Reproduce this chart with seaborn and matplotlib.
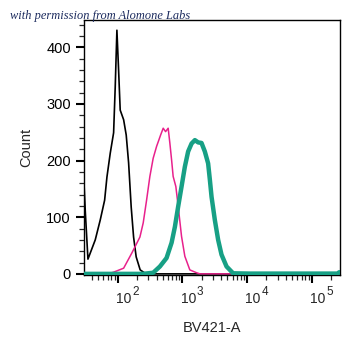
import numpy as np
import pandas as pd
import matplotlib
matplotlib.use("Agg")
import matplotlib.pyplot as plt
import matplotlib.transforms as mtransforms
import seaborn as sns
from matplotlib.ticker import LogLocator, MultipleLocator, FixedLocator

# ---- data (log10 of BV421-A intensity, event count) ----
black_log = [1.48, 1.50, 1.541, 1.654, 1.731, 1.799, 1.835, 1.886, 1.938, 1.963,
             1.989, 2.015, 2.040, 2.093, 2.133, 2.170, 2.210, 2.247, 2.287, 2.349,
             2.427, 2.499, 5.44]
black_cnt = [160, 110, 26, 60, 95, 130, 171, 213, 249, 330,
             430, 360, 289, 272, 245, 196, 118, 65, 30, 7,
             1, 0, 0]

pink_log = [1.48, 1.850, 1.938, 2.093, 2.221, 2.345, 2.396, 2.448, 2.499, 2.550,
            2.603, 2.628, 2.665, 2.705, 2.742, 2.782, 2.808, 2.835, 2.859, 2.901,
            2.937, 2.989, 3.040, 3.117, 3.221, 3.272, 5.44]
pink_cnt = [0, 0, 3, 10, 37, 65, 90, 130, 172, 204,
            225, 233, 245, 257, 251, 257, 231, 201, 172, 154,
            119, 66, 31, 7, 2, 0, 0]

teal_log = [1.48, 2.391, 2.550, 2.654, 2.757, 2.835, 2.886, 2.937, 2.989, 3.040,
            3.091, 3.144, 3.195, 3.246, 3.298, 3.349, 3.400, 3.427, 3.453, 3.504,
            3.555, 3.607, 3.685, 3.787, 4.045, 5.40, 5.43]
teal_cnt = [0, 0, 2, 13, 28, 55, 83, 119, 154, 189,
            216, 230, 236, 232, 231, 216, 195, 166, 136, 95,
            60, 34, 13, 1, 0.5, 0.5, 3]

series_names = ["isotype", "stained", "stained_thick"]
series_colors = {"isotype": "#000000", "stained": "#e8218c", "stained_thick": "#17a085"}
series_widths = {"isotype": 1.2, "stained": 1.1, "stained_thick": 3.2}

x_decades = [2, 3, 4, 5]

frames = []
for name, lx, cnt in zip(series_names, [black_log, pink_log, teal_log],
                         [black_cnt, pink_cnt, teal_cnt]):
    frames.append(pd.DataFrame({"BV421-A": 10 ** np.array(lx), "Count": cnt, "series": name}))
df = pd.concat(frames, ignore_index=True)

sns.set_style("ticks")
plt.rcParams["font.family"] = ["Liberation Sans", "DejaVu Sans"]

fig = plt.figure(figsize=(3.61, 3.56), dpi=100)
ax = fig.add_axes([84 / 361, 81 / 356, 256 / 361, 255 / 356])

for name in series_names:
    sub = df[df["series"] == name]
    sns.lineplot(data=sub, x="BV421-A", y="Count", ax=ax, color=series_colors[name],
                 linewidth=series_widths[name], sort=False, estimator=None,
                 zorder=3 if name == "stained_thick" else 2)

ax.set_xscale("log")
ax.set_xlim(10 ** 1.48, 10 ** 5.44)
ax.set_ylim(-2, 448)

ax.xaxis.set_major_locator(FixedLocator([10 ** d for d in x_decades]))
ax.xaxis.set_minor_locator(LogLocator(base=10, subs=np.arange(2, 10), numticks=20))
ax.set_xticklabels([])
ax.yaxis.set_major_locator(MultipleLocator(100))
ax.yaxis.set_minor_locator(MultipleLocator(20))

ax.tick_params(which="major", direction="out", length=6, width=1.5, labelsize=10.5, colors="black")
ax.tick_params(which="minor", direction="out", length=3.5, width=0.9)

# x tick labels: "10" with a large superscript exponent, left-aligned at the tick
trans = mtransforms.blended_transform_factory(ax.transData, ax.transAxes)
for d in x_decades:
    base_tr = mtransforms.offset_copy(trans, fig=fig, x=-1.5, y=-28, units="dots")
    ax.text(10 ** d, 0, "10", transform=base_tr, fontsize=10, ha="left",
            va="baseline", clip_on=False)
    exp_tr = mtransforms.offset_copy(trans, fig=fig, x=14.5, y=-20, units="dots")
    ax.text(10 ** d, 0, str(d), transform=exp_tr, fontsize=8.5, ha="left",
            va="baseline", clip_on=False)

for s in ax.spines.values():
    s.set_visible(True)
    s.set_linewidth(1.0)
    s.set_color("black")

ax.set_xlabel("BV421-A", fontsize=10.5)
ax.xaxis.set_label_coords(0.5, -0.182)
ax.set_ylabel("Count", fontsize=10.5, labelpad=9)
if ax.get_legend():
    ax.get_legend().remove()

fig.text(10 / 361, 1 - 19 / 356, "with permission from Alomone Labs",
         fontfamily="Liberation Serif", fontstyle="italic", fontsize=8.9,
         color="#1c2b5e", zorder=10)

fig.savefig("out.png", dpi=100)
